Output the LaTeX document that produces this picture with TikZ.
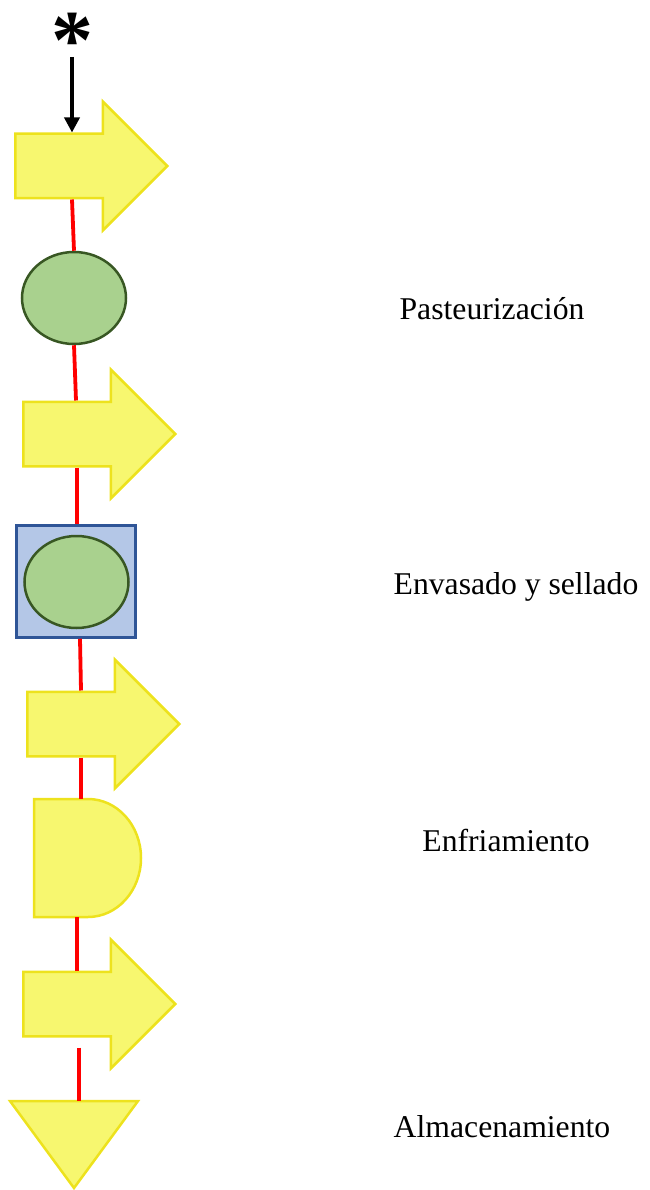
\documentclass[tikz,border=0pt]{standalone}
\usepackage{fontspec}
\setmainfont{Liberation Serif}
\usepackage{tikz}
\usetikzlibrary{arrows.meta,calc,positioning,shapes.geometric,shapes.arrows}
\definecolor{Amarillo}{HTML}{F7F76F}
\definecolor{AmarilloBorde}{HTML}{EDE21D}
\definecolor{VerdeRelleno}{HTML}{A9D18E}
\definecolor{VerdeBorde}{HTML}{385723}
\definecolor{AzulRelleno}{HTML}{B4C7E7}
\definecolor{AzulBorde}{HTML}{2F5597}
\definecolor{Rojo}{HTML}{FF0000}

\begin{document}
\begin{tikzpicture}[
  x=1pt,y=1pt,
  flecha/.style={single arrow,draw=AmarilloBorde,fill=Amarillo,line width=2.5pt,inner sep=0pt,text height=62pt,text depth=0pt,minimum height=152pt,single arrow head extend=32pt,anchor=tail},
  operacion/.style={ellipse,draw=VerdeBorde,fill=VerdeRelleno,line width=2.5pt,inner sep=0pt,minimum width=104pt,minimum height=92pt},
  caja/.style={rectangle,draw=AzulBorde,fill=AzulRelleno,line width=2.5pt,inner sep=0pt,minimum width=119pt,minimum height=112pt},
  forma/.style={draw=AmarilloBorde,fill=Amarillo,line width=2.5pt,line join=miter},
  linea/.style={draw=Rojo,line width=3.8pt},
  entrada/.style={-{Triangle[length=15pt,width=15pt]},line width=3.5pt,draw=black},
  etiqueta/.style={font=\fontsize{31.7}{36}\selectfont,anchor=base,inner sep=0pt}
]
\useasboundingbox (0,0) rectangle (649,-1190);

\node[inner sep=0pt,anchor=base,font=\fontsize{84}{84}\selectfont\bfseries] (ast) at (72,-69) {*};
\coordinate (inicio) at (72,-57);

\node[flecha] (f1) at (14,-166) {};
\node[operacion] (pas) at (74,-298) {};
\node[flecha] (f2) at (22,-434) {};
\node[caja] (env) at (76,-581.5) {};
\node[operacion] (envop) at (76.5,-582) {};
\node[flecha] (f3) at (26,-724) {};
\draw[forma] (34,-799) -- (88,-799) arc[start angle=90,end angle=-90,x radius=53,y radius=59] -- (34,-917) -- cycle;
\coordinate (enf-n) at (81,-799);
\coordinate (enf-s) at (77,-917);
\node[flecha] (f4) at (22,-1004) {};
\draw[forma] (10,-1101) -- (138,-1101) -- (74,-1188) -- cycle;
\coordinate (alm-n) at (79,-1101);

\node[etiqueta] (l1) at (492,-319) {Pasteurización};
\node[etiqueta] (l2) at (516,-594) {Envasado y sellado};
\node[etiqueta] (l3) at (506,-851) {Enfriamiento};
\node[etiqueta] (l4) at (502,-1137) {Almacenamiento};

\draw[entrada] (inicio) -- (inicio |- f1.north);
\draw[linea] ([xshift=-2pt]pas.north |- f1.south) -- (pas.north);
\draw[linea] (pas.south) -- ([xshift=2pt]pas.south |- f2.north);
\draw[linea] ([xshift=1pt]env.north |- f2.south) -- ([xshift=1pt]env.north);
\draw[linea] ([xshift=4pt]env.south) -- ([xshift=5pt]env.south |- f3.north);
\draw[linea] (enf-n |- f3.south) -- (enf-n);
\draw[linea] (enf-s) -- (enf-s |- f4.north);
\draw[linea] ([yshift=-10pt]alm-n |- f4.south) -- (alm-n);
\end{tikzpicture}
\end{document}
